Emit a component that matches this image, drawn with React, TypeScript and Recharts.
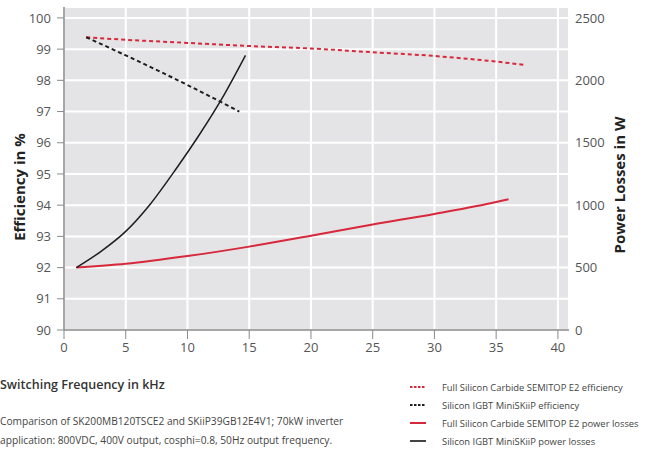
import React from "react";
import { LineChart, Line, XAxis, YAxis, CartesianGrid } from "recharts";

// Frequencies (kHz) and values
const sicEffFreq = [1.8, 5, 10, 15, 20, 25, 30, 35, 37.2];
const sicEffVal = [99.38, 99.3, 99.2, 99.1, 99.02, 98.9, 98.78, 98.6, 98.5];

const igbtEffFreq = [1.8, 5, 10, 14.2];
const igbtEffVal = [99.38, 98.8, 97.85, 97.0];

const sicLossFreq = [1, 5, 10, 15, 20, 25, 30, 35, 36];
const sicLossVal = [500, 530, 592, 668, 755, 845, 930, 1025, 1048];

const igbtLossFreq = [1, 3, 5, 7, 9, 11, 13, 14.7];
const igbtLossVal = [500, 630, 790, 1010, 1280, 1570, 1890, 2200];

const xTicks = [0, 5, 10, 15, 20, 25, 30, 35, 40];
const effTicks = [90, 91, 92, 93, 94, 95, 96, 97, 98, 99, 100];
const lossTicks = [0, 500, 1000, 1500, 2000, 2500];

const legendLabels = [
  "Full Silicon Carbide SEMITOP E2 efficiency",
  "Silicon IGBT MiniSKiiP efficiency",
  "Full Silicon Carbide SEMITOP E2 power losses",
  "Silicon IGBT MiniSKiiP power losses",
];

const xTitle = "Switching Frequency in kHz";
const noteLines = [
  "Comparison of SK200MB120TSCE2 and SKiiP39GB12E4V1; 70kW inverter",
  "application: 800VDC, 400V output, cosphi=0.8, 50Hz output frequency.",
];

const zip = (xs: number[], ys: number[]) => xs.map((x, i) => ({ x, y: ys[i] }));

const sicEff = zip(sicEffFreq, sicEffVal);
const igbtEff = zip(igbtEffFreq, igbtEffVal);
const sicLoss = zip(sicLossFreq, sicLossVal);
const igbtLoss = zip(igbtLossFreq, igbtLossVal);

const RED = "#d7283c";
const BLACK = "#1e1e1e";
const FONT = "'Open Sans', 'Noto Sans', sans-serif";
const tickStyle = { fontSize: 13, fill: "#555", fontFamily: FONT };

const legendItems = [
  { label: legendLabels[0], color: RED, dash: true },
  { label: legendLabels[1], color: BLACK, dash: true },
  { label: legendLabels[2], color: RED, dash: false },
  { label: legendLabels[3], color: "#444", dash: false },
];

export default function App() {
  return (
    <div style={{ position: "absolute", left: 0, top: 0, width: 648, height: 450, background: "#fff", fontFamily: FONT, overflow: "hidden" }}>
      <LineChart width={648} height={450} margin={{ top: 7, right: 0, bottom: 90, left: 0 }}>
        <CartesianGrid
          yAxisId="left"
          fill="#e4e4e6"
          stroke="#ffffff"
          strokeWidth={2}
          horizontal
          vertical
        />
        <XAxis
          type="number"
          dataKey="x"
          domain={[0, 40.9]}
          ticks={xTicks}
          allowDataOverflow
          height={30}
          tickSize={9}
          tickMargin={4}
          axisLine={{ stroke: "#8a8a8a", strokeWidth: 1.5 }}
          tickLine={{ stroke: "#8a8a8a" }}
          tick={tickStyle}
        />
        <YAxis
          yAxisId="left"
          type="number"
          domain={[90, 100.35]}
          ticks={effTicks}
          allowDataOverflow
          width={64}
          tickSize={7}
          tickMargin={6}
          axisLine={{ stroke: "#8a8a8a", strokeWidth: 1.5 }}
          tickLine={{ stroke: "#8a8a8a" }}
          tick={tickStyle}
        />
        <YAxis
          yAxisId="right"
          orientation="right"
          type="number"
          domain={[0, 2587.5]}
          ticks={lossTicks}
          allowDataOverflow
          width={79}
          tickSize={0}
          tickMargin={6}
          axisLine={false}
          tickLine={false}
          tick={{ ...tickStyle, textAnchor: "start" }}
        />
        <Line
          yAxisId="left"
          data={sicEff}
          dataKey="y"
          type="monotone"
          stroke={RED}
          strokeWidth={2}
          strokeDasharray="4 3"
          dot={false}
          isAnimationActive={false}
        />
        <Line
          yAxisId="left"
          data={igbtEff}
          dataKey="y"
          type="monotone"
          stroke={BLACK}
          strokeWidth={2}
          strokeDasharray="4 3"
          dot={false}
          isAnimationActive={false}
        />
        <Line
          yAxisId="right"
          data={sicLoss}
          dataKey="y"
          type="monotone"
          stroke={RED}
          strokeWidth={2}
          dot={false}
          isAnimationActive={false}
        />
        <Line
          yAxisId="right"
          data={igbtLoss}
          dataKey="y"
          type="monotone"
          stroke={BLACK}
          strokeWidth={1.5}
          dot={false}
          isAnimationActive={false}
        />
      </LineChart>

      {/* Axis titles */}
      <div style={{ position: "absolute", left: 19, top: 187, transform: "translate(-50%, -50%) rotate(-90deg)", whiteSpace: "nowrap", fontSize: 15, fontWeight: 700, color: "#222" }}>
        Efficiency in %
      </div>
      <div style={{ position: "absolute", left: 619, top: 185, transform: "translate(-50%, -50%) rotate(-90deg)", whiteSpace: "nowrap", fontSize: 15, fontWeight: 700, color: "#222" }}>
        Power Losses in W
      </div>

      {/* Bottom-left texts */}
      <div style={{ position: "absolute", left: 0, top: 376, whiteSpace: "nowrap", fontSize: 12.5, fontWeight: 600, color: "#333" }}>
        {xTitle}
      </div>
      {noteLines.map((t, i) => (
        <div key={i} style={{ position: "absolute", left: 0, top: 414 + i * 19, whiteSpace: "nowrap", fontSize: 10.2, color: "#444" }}>
          {t}
        </div>
      ))}

      {/* Legend */}
      {legendItems.map((it, i) => (
        <div key={i} style={{ position: "absolute", left: 410, top: 379 + i * 18, height: 16, display: "flex", alignItems: "center", whiteSpace: "nowrap" }}>
          <svg width={16} height={4} style={{ marginRight: 16 }}>
            <line x1={0} y1={2} x2={16} y2={2} stroke={it.color} strokeWidth={2} strokeDasharray={it.dash ? "2.5 1.5" : undefined} />
          </svg>
          <span style={{ fontSize: 9.4, color: "#444" }}>{it.label}</span>
        </div>
      ))}
    </div>
  );
}
